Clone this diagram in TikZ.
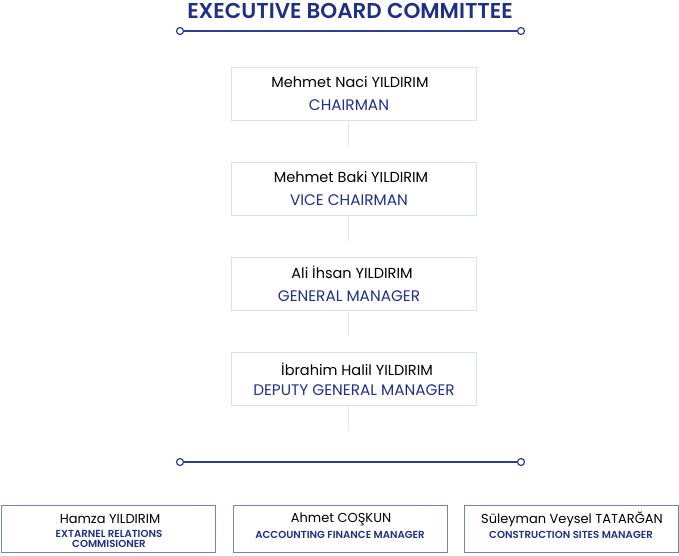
\documentclass[tikz,border=0pt]{standalone}
\usepackage{fontspec}
\setmainfont{Poppins}[BoldFont={Poppins SemiBold}]
\definecolor{navy}{HTML}{1F3185}
\definecolor{lineblue}{HTML}{2E3F8F}
\definecolor{boxgray}{HTML}{DCDFEC}
\definecolor{boxblue}{HTML}{7482B8}
\definecolor{conn}{HTML}{E2E4EC}
\begin{document}
\begin{tikzpicture}[x=1pt,y=-1pt,
  topbox/.style={draw=boxgray,line width=1.2pt,minimum width=245pt,minimum height=53pt,anchor=north west,inner sep=0pt},
  botbox/.style={draw=boxblue,line width=1pt,minimum width=214pt,minimum height=47pt,anchor=north west,inner sep=0pt},
  nametext/.style={font=\fontsize{14.5}{16}\selectfont,text=black},
  roletext/.style={font=\fontsize{15.3}{17}\selectfont,text=navy},
  bname/.style={font=\fontsize{13}{15}\selectfont,text=black},
  brole/.style={font=\fontsize{10.2}{11.5}\selectfont\bfseries,text=navy,align=center},
  endpt/.style={circle,draw=lineblue,fill=white,line width=1.2pt,minimum size=7pt,inner sep=0pt},
  hline/.style={draw=lineblue,line width=1.6pt},
  vconn/.style={draw=conn,line width=1pt}]
\useasboundingbox (0,0) rectangle (679,555);
\node[font=\fontsize{21.5}{24}\selectfont\bfseries,text=navy] (title) at (350,11) {EXECUTIVE BOARD COMMITTEE};
\node[endpt] (tl) at (180,31) {};
\node[endpt] (tr) at (521,31) {};
\draw[hline] (tl) -- (tr);
% top boxes
\node[topbox] (b1) at (231,67) {};
\node[topbox] (b2) at (231,162) {};
\node[topbox] (b3) at (231,257) {};
\node[topbox] (b4) at (231,352) {};
\node[nametext] (n1) at (350,82) {Mehmet Naci YILDIRIM};
\node[roletext] (r1) at (349,105) {CHAIRMAN};
\node[nametext] (n2) at (351,177) {Mehmet Baki YILDIRIM};
\node[roletext] (r2) at (349,200) {VICE CHAIRMAN};
\node[nametext] (n3) at (352,272) {Ali İhsan YILDIRIM};
\node[roletext] (r3) at (349,296) {GENERAL MANAGER};
\node[nametext] (n4) at (357,369) {İbrahim Halil YILDIRIM};
\node[roletext] (r4) at (354,390) {DEPUTY GENERAL MANAGER};
\coordinate (c1) at (348.5,146);
\coordinate (c2) at (348.5,241);
\coordinate (c3) at (348.5,336);
\coordinate (c4) at (348.5,431);
\draw[vconn] (b1.south -| c1) -- (c1);
\draw[vconn] (b2.south -| c2) -- (c2);
\draw[vconn] (b3.south -| c3) -- (c3);
\draw[vconn] (b4.south -| c4) -- (c4);
% bottom line
\node[endpt] (bl) at (180,462) {};
\node[endpt] (br) at (521,462) {};
\draw[hline] (bl) -- (br);
% bottom boxes
\node[botbox] (d1) at (1,505) {};
\node[botbox] (d2) at (232.5,505) {};
\node[botbox] (d3) at (464,505) {};
\node[bname] (m1) at (110,519) {Hamza YILDIRIM};
\node[brole] (s1) at (109,539) {EXTARNEL RELATIONS\\[-1pt]COMMISIONER};
\node[bname] (m2) at (341,519) {Ahmet COŞKUN};
\node[brole] (s2) at (340,535) {ACCOUNTING FINANCE MANAGER};
\node[bname] (m3) at (572,519) {Süleyman Veysel TATARĞAN};
\node[brole] (s3) at (571,535) {CONSTRUCTION SITES MANAGER};
\end{tikzpicture}
\end{document}
